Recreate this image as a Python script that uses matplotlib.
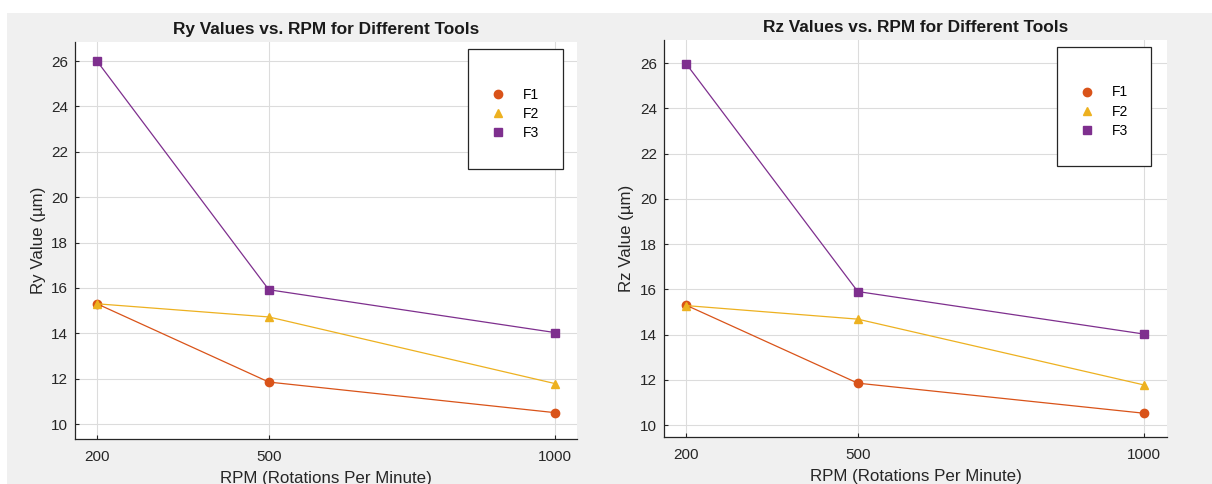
import numpy as np
import matplotlib.pyplot as plt
from matplotlib.patches import Rectangle

plt.rcParams['font.family'] = ['Liberation Sans', 'DejaVu Sans']

rpm = [200, 500, 1000]
tools = ["F1", "F2", "F3"]

ry_f1 = [15.3, 11.85, 10.5]
ry_f2 = [15.3, 14.72, 11.78]
ry_f3 = [26.0, 15.92, 14.03]

rz_f1 = [15.3, 11.85, 10.52]
rz_f2 = [15.28, 14.68, 11.77]
rz_f3 = [25.98, 15.9, 14.02]

colors = ['#D95319', '#EDB120', '#7E2F8E']
markers = ['o', '^', 's']

W, H = 1212, 484
fig = plt.figure(figsize=(W / 100, H / 100), dpi=100)
fig.patch.set_facecolor('white')
fig.patches.append(Rectangle((7 / W, 0), 1, 1 - 13 / H, transform=fig.transFigure,
                             facecolor='#f0f0f0', edgecolor='none', zorder=-10))


def px_axes(x0, y0, x1, y1):
    return fig.add_axes([x0 / W, 1 - y1 / H, (x1 - x0) / W, (y1 - y0) / H])


def draw(ax, series, title, ylabel, xlim, ylim, leg_box):
    for vals, c, m, name in zip(series, colors, markers, tools):
        ax.plot(rpm, vals, color=c, lw=0.9, marker=m, markersize=6,
                markerfacecolor=c, markeredgecolor=c, label=name)
    ax.set_xlim(*xlim)
    ax.set_ylim(*ylim)
    ax.set_xticks(rpm)
    ax.set_yticks(np.arange(10, 27, 2))
    ax.grid(True, color='#dcdcdc', lw=0.8)
    ax.set_axisbelow(True)
    for s in ['top', 'right']:
        ax.spines[s].set_visible(False)
    for s in ['left', 'bottom']:
        ax.spines[s].set_color('#262626')
        ax.spines[s].set_linewidth(0.9)
    ax.tick_params(colors='#262626', labelsize=11, length=3, width=0.8, direction='in')
    ax.tick_params(axis='x', pad=8)
    ax.tick_params(axis='y', pad=5)
    ax.set_title(title, fontsize=12.4, fontweight='bold', color='#1a1a1a', pad=6)
    ax.set_xlabel('RPM (Rotations Per Minute)', fontsize=12.2, color='#262626', labelpad=5)
    ax.set_ylabel(ylabel, fontsize=12.2, color='#262626', labelpad=4)

    lx0, ly0, lx1, ly1 = leg_box
    bb = (lx0 / W, 1 - ly1 / H, (lx1 - lx0) / W, (ly1 - ly0) / H)
    fig.patches.append(Rectangle(bb[:2], bb[2], bb[3], transform=fig.transFigure,
                                 facecolor='white', edgecolor='#262626', lw=0.9, zorder=5))
    handles = [plt.Line2D([], [], ls='none', marker=m, color=c, markersize=6)
               for c, m in zip(colors, markers)]
    # entries sit a little below the box centre in the reference
    bb_leg = (bb[0], bb[1] - 5 / H, bb[2], bb[3])
    leg = fig.legend(handles, tools, loc='center', bbox_to_anchor=bb_leg,
                     bbox_transform=fig.transFigure, frameon=False, fontsize=10,
                     handlelength=1.0, handletextpad=1.3, labelspacing=0.37)
    leg.set_zorder(6)


ax1 = px_axes(75, 42, 577, 439)
draw(ax1, [ry_f1, ry_f2, ry_f3], 'Ry Values vs. RPM for Different Tools',
     'Ry Value (µm)', (161.6, 1038), (9.34, 26.84), (468, 49, 563, 169))

ax2 = px_axes(664, 40, 1167, 437)
draw(ax2, [rz_f1, rz_f2, rz_f3], 'Rz Values vs. RPM for Different Tools',
     'Rz Value (µm)', (161.6, 1040), (9.47, 27.02), (1057, 47, 1151, 166))

fig.savefig('out.png', dpi=100, facecolor=fig.get_facecolor())
